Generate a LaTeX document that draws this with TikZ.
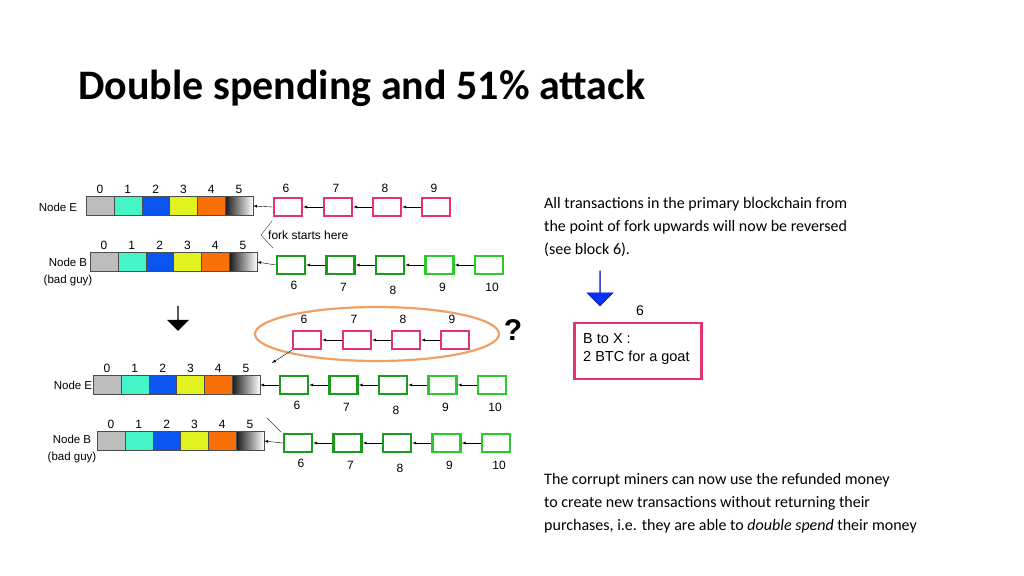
\documentclass[tikz,border=0pt]{standalone}
\usepackage{fontspec}
\setmainfont{Carlito}
\newfontfamily\arialfont{Liberation Sans}
\usetikzlibrary{arrows,shapes.arrows,shapes.geometric}
\definecolor{blk0}{HTML}{BDBDBD}
\definecolor{blk1}{HTML}{45F5C8}
\definecolor{blk2}{HTML}{0A55F0}
\definecolor{blk3}{HTML}{E2F21E}
\definecolor{blk4}{HTML}{FA7008}
\definecolor{forkpink}{HTML}{E5336E}
\definecolor{darkgreen}{HTML}{1C9A1C}
\definecolor{lightgreen}{HTML}{2CC92C}
\definecolor{ringorange}{HTML}{EFA066}
\tikzstyle{chain_block}=[rectangle,
                         minimum height=19pt,
                         minimum width=27.8pt,
                         inner sep=0pt,
                         draw=black!70]
\tikzstyle{fork_block}=[rectangle,
                        minimum height=18pt,
                        minimum width=28pt,
                        inner sep=0pt,
                        line width=2.4pt]
\tikzstyle{num}=[font=\arialfont\fontsize{12}{14}\selectfont, inner sep=0pt]
\tikzstyle{body}=[font=\fontsize{16}{23}\selectfont, align=left, anchor=north west, inner sep=0pt]

\begin{document}
\begin{tikzpicture}[x=1pt, y=-1pt]
  \useasboundingbox (0,0) rectangle (1024,575);
  \node at (78,88) (title) [anchor=west, inner sep=0pt, font=\bfseries\fontsize{42}{48}\selectfont] {Double spending and 51\% attack};

  % the four chains 0..5
  \foreach \r/\x/\y in {a/86/206, b/90/262, c/93/385, d/97/441} {
    \foreach \i in {0,...,4} {
      \node at ({\x+14+27.8*\i}, \y) (\r\i) [chain_block, fill=blk\i] {};
      \node at ({\x+14+27.8*\i}, \y-17) () [num] {\i};
    }
    \node at ({\x+14+27.8*5}, \y) (\r5) [chain_block, left color=black!90, right color=white] {};
    \node at ({\x+14+27.8*5}, \y-17) () [num] {5};
  }
  \node at (58,207) (nodeEa) [num, font=\arialfont\fontsize{11.5}{14}\selectfont] {Node E};
  \node at (68,272) (nodeBb) [num, align=center, font=\arialfont\fontsize{11.5}{17}\selectfont] {Node B\\(bad guy)};
  \node at (73,385) (nodeEc) [num, font=\arialfont\fontsize{11.5}{14}\selectfont] {Node E};
  \node at (72,449) (nodeBd) [num, align=center, font=\arialfont\fontsize{11.5}{17}\selectfont] {Node B\\(bad guy)};

  % pink blocks of node E
  \foreach \i/\x in {6/288, 7/338, 8/387, 9/436} {
    \node at (\x,207) (ap\i) [fork_block, draw=forkpink] {};
    \node at (\x-2,188) () [num] {\i};
  }
  \draw[-latex] (ap6.west) -- (a5.east);
  \draw[-latex] (ap7.west) -- (ap6.east);
  \draw[-latex] (ap8.west) -- (ap7.east);
  \draw[-latex] (ap9.west) -- (ap8.east);

  % green blocks
  \foreach \r/\x/\y in {b/291/265, c/294/385, d/298/443} {
    \foreach \i/\c/\dy in {6/darkgreen/20, 7/darkgreen/22, 8/darkgreen/25, 9/lightgreen/22, 10/lightgreen/22} {
      \node at ({\x+49.5*(\i-6)}, \y) (\r g\i) [fork_block, draw=\c] {};
      \node at ({\x+49.5*(\i-6)+3}, \y+\dy) () [num] {\i};
    }
    \draw[-latex] (\r g6.west) -- (\r5.east);
    \draw[-latex] (\r g7.west) -- (\r g6.east);
    \draw[-latex] (\r g8.west) -- (\r g7.east);
    \draw[-latex] (\r g9.west) -- (\r g8.east);
    \draw[-latex] (\r g10.west) -- (\r g9.east);
  }

  \coordinate (forktop) at (272,221);
  \coordinate (forkbend) at (261,235);
  \coordinate (forkbot) at (273,248);
  \draw[black!80] (forktop) -- (forkbend) -- (forkbot);
  \node at (268,235) (forklabel) [num, anchor=west] {fork starts here};

  \node at (178,318) (downarrow) [single arrow, shape border rotate=270, fill=black, minimum height=25pt, minimum width=22pt, single arrow head extend=3pt, inner sep=0pt] {};

  % orphaned pink blocks
  \node at (377,334) (ring) [ellipse, draw=ringorange, line width=2.2pt, minimum width=244pt, minimum height=54pt] {};
  \foreach \i/\x in {6/307, 7/357, 8/406, 9/455} {
    \node at (\x,340) (op\i) [fork_block, draw=forkpink] {};
    \node at (\x-3,319) () [num] {\i};
  }
  \draw[-latex] (op7.west) -- (op6.east);
  \draw[-latex] (op8.west) -- (op7.east);
  \draw[-latex] (op9.west) -- (op8.east);
  \coordinate (orphanend) at (272,363);
  \draw[-latex] (op6.south west) -- (orphanend);
  \node at (513,330) (question) [inner sep=0pt, font=\arialfont\bfseries\fontsize{30}{30}\selectfont] {?};
  \coordinate (cuttop) at (267,418);
  \coordinate (cutbot) at (281,432);
  \draw[black!80] (cuttop) -- (cutbot);

  % right side
  \node at (544,197) (reversed) [body] {All transactions in the primary blockchain from\\the point of fork upwards will now be reversed\\(see block 6).};
  \node at (600,288) (bluearrow) [single arrow, shape border rotate=270, fill=blue!80!cyan, draw=blue!60!black, minimum height=35pt, minimum width=26pt, single arrow head extend=5pt, inner sep=0pt] {};
  \node at (640,311) (sixlabel) [num, font=\arialfont\fontsize{14}{16}\selectfont] {6};
  \node at (638,351) (txbox) [rectangle, draw=forkpink, line width=2.2pt, minimum width=127pt, minimum height=56pt] {};
  \node at (583,339) (txline1) [num, anchor=west, font=\arialfont\fontsize{14.5}{16}\selectfont] {B to X :};
  \node at (583,358) (txline2) [num, anchor=west, font=\arialfont\fontsize{14.5}{16}\selectfont] {2 BTC for a goat};
  \node at (544,473) (doublespend) [body] {The corrupt miners can now use the refunded money\\to create new transactions without returning their\\purchases, i.e. they are able to \textit{double spend} their money};
\end{tikzpicture}
\end{document}
